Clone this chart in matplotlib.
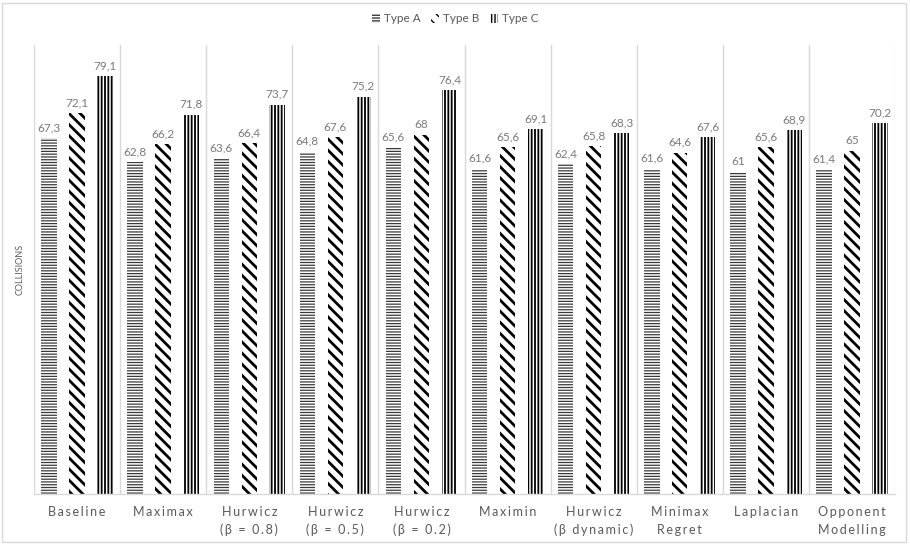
import matplotlib
matplotlib.use("Agg")
import matplotlib.pyplot as plt
import numpy as np
from matplotlib.patches import Rectangle

# Collision counts per strategy and agent type
categories = ["Baseline", "Maximax", "Hurwicz\n(β = 0.8)", "Hurwicz\n(β = 0.5)",
              "Hurwicz\n(β = 0.2)", "Maximin", "Hurwicz\n(β dynamic)", "Minimax\nRegret",
              "Laplacian", "Opponent\nModelling"]
series_names = ["Type A", "Type B", "Type C"]
type_a = [67.3, 62.8, 63.6, 64.8, 65.6, 61.6, 62.4, 61.6, 61.0, 61.4]
type_b = [72.1, 66.2, 66.4, 67.6, 68.0, 65.6, 65.8, 64.6, 65.6, 65.0]
type_c = [79.1, 71.8, 73.7, 75.2, 76.4, 69.1, 68.3, 67.6, 68.9, 70.2]

FONT = ["Lato", "DejaVu Sans"]
GREY_TEXT = "#595959"
LABEL_GREY = "#7a7a7a"
GRID = "#d9d9d9"

plt.rcParams["font.family"] = FONT

fig = plt.figure(figsize=(9.10, 5.44), dpi=100)
ax = fig.add_axes([34 / 910, 1 - 494 / 544, (895 - 34) / 910, (494 - 45) / 544])

styles = [
    dict(hatch="------", color="#3a3a3a", lw=0.9),
    dict(hatch="\\\\\\", color="black", lw=2.0),
    dict(hatch="|||||", color="black", lw=1.3),
]
offsets = [-0.325, 0.0, 0.325]
width = 0.18
x = np.arange(len(categories))

def fmt(v):
    s = ("%.1f" % v).rstrip("0").rstrip(".")
    return s.replace(".", ",")

handles = []
for vals, name, st, off in zip([type_a, type_b, type_c], series_names, styles, offsets):
    with plt.rc_context({"hatch.linewidth": st["lw"]}):
        bars = ax.bar(x + off, vals, width, facecolor="white", edgecolor=st["color"],
                      linewidth=0, hatch=st["hatch"], label=name)
        for b in bars:
            if hasattr(b, "set_hatch_linewidth"):
                b.set_hatch_linewidth(st["lw"])
    handles.append(bars)
    for xi, v in zip(x + off, vals):
        ax.annotate(fmt(v), (xi, v), xytext=(0, 3.5), textcoords="offset points",
                    ha="center", va="bottom", fontsize=8.5, color=LABEL_GREY)

ax.set_xlim(-0.5, len(categories) - 0.5)
ax.set_ylim(0, 85)

# category separators
for b in np.arange(-0.5, len(categories), 1.0):
    ax.axvline(b, color=GRID, lw=1.0, zorder=0)

for s in ["top", "right", "left"]:
    ax.spines[s].set_visible(False)
ax.spines["bottom"].set_color(GRID)
ax.spines["bottom"].set_linewidth(1.0)

ax.set_yticks([])
ax.set_xticks(x)
# tracked (letter-spaced) category names
spaced = ["\n".join("\u2009".join(line) for line in c.split("\n")) for c in categories]
ax.set_xticklabels(spaced, fontsize=9, color=GREY_TEXT, linespacing=1.5)
ax.tick_params(axis="x", length=0, pad=9)

ax.set_ylabel("COLLISIONS", fontsize=6.5, color=GREY_TEXT, labelpad=7)

leg = fig.legend(handles=handles, labels=series_names, loc="center",
                 bbox_to_anchor=(0.5, 1 - 19 / 544), ncol=3, frameon=False,
                 fontsize=8.5, handlelength=0.7, handleheight=0.7,
                 handletextpad=0.3, columnspacing=0.9, labelcolor=GREY_TEXT)

# light frame around the whole chart
fig.patches.append(Rectangle((2 / 910, 2 / 544), 904 / 910, 539 / 544,
                             transform=fig.transFigure, fill=False,
                             edgecolor=GRID, lw=1.0))

fig.savefig("out.png", dpi=100)
